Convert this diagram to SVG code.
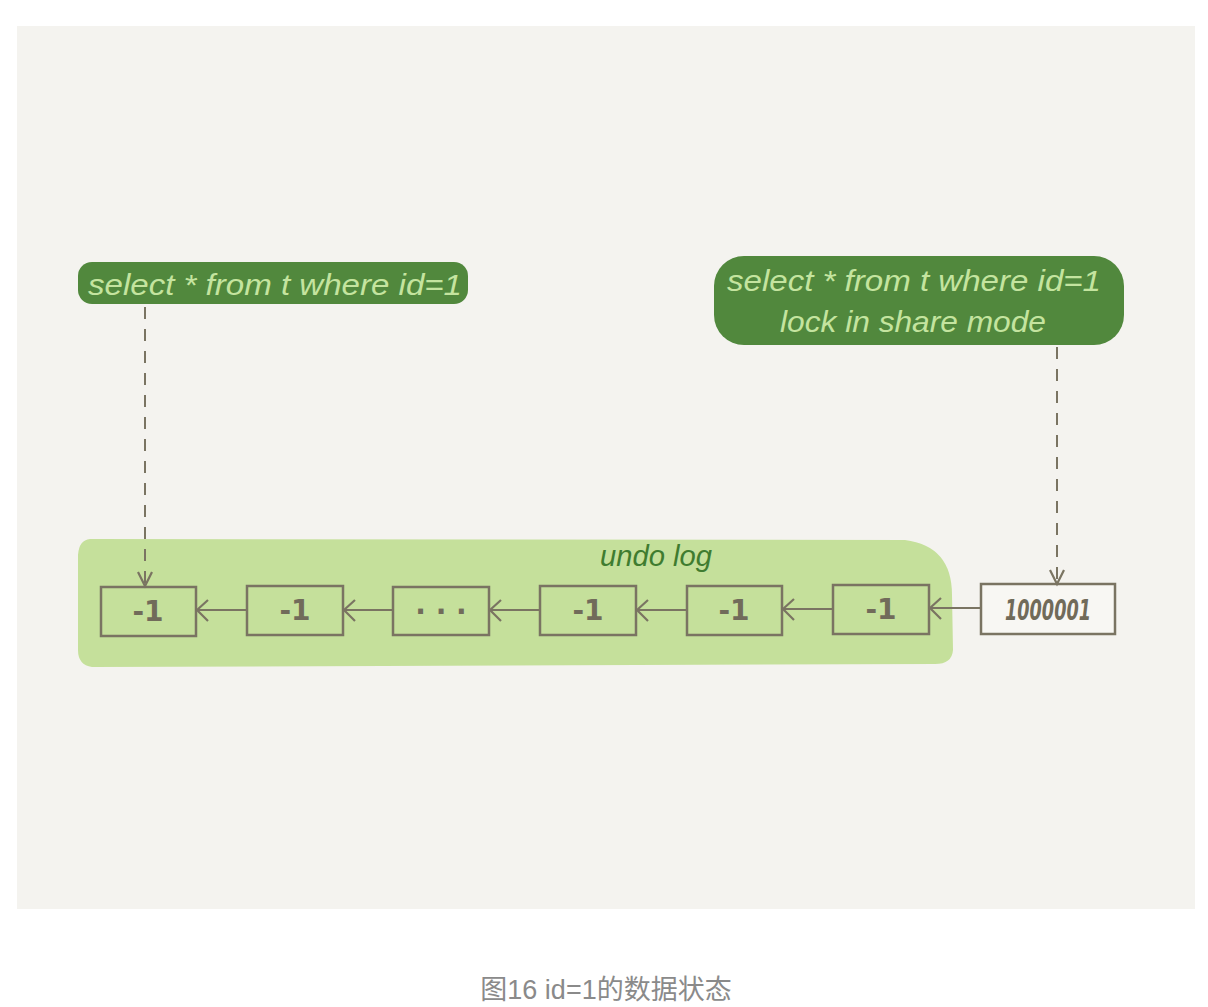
<svg xmlns="http://www.w3.org/2000/svg" width="1208" height="1007" viewBox="0 0 1208 1007">
<style>
.pill{fill:#51883d}
.pt{font-family:"Liberation Sans","DejaVu Sans",sans-serif;font-style:italic;font-size:30px;fill:#c4e49f}
.box{fill:none;stroke:#7a7462;stroke-width:2.5}
.bt{font-family:"DejaVu Sans","Liberation Sans",sans-serif;font-weight:bold;font-size:28px;fill:#716b5a;text-anchor:middle}
.ln{stroke:#7a7462;stroke-width:2.2;fill:none}
.dash{stroke:#7a7462;stroke-width:2;fill:none;stroke-dasharray:12 10}
.ah{stroke:#7a7462;stroke-width:2.2;fill:none}
</style>
<rect x="0" y="0" width="1208" height="1007" fill="#ffffff"/>
<rect x="17" y="26" width="1178" height="883" fill="#f4f3ef"/>
<g id="undo-log-area">
<path d="M90 539 L905 540 Q952 546 952 595 L953 650 Q952 664 935 664 L92 667 Q78 665 78 650 L78 555 Q79 540 90 539 Z" fill="#c5e09b"/>
<text x="600" y="566" font-family="Liberation Sans,DejaVu Sans,sans-serif" font-style="italic" font-size="30" fill="#3f7c30" textLength="112" lengthAdjust="spacingAndGlyphs">undo log</text>
</g>
<g id="query1">
<rect class="pill" x="78" y="262" width="390" height="42" rx="14"/>
<text class="pt" x="88" y="295" textLength="374" lengthAdjust="spacingAndGlyphs">select * from t where id=1</text>
</g>
<g id="query2">
<rect class="pill" x="714" y="256" width="410" height="89" rx="30"/>
<text class="pt" x="727" y="291" textLength="374" lengthAdjust="spacingAndGlyphs">select * from t where id=1</text>
<text class="pt" x="780" y="332" textLength="266" lengthAdjust="spacingAndGlyphs">lock in share mode</text>
</g>
<g id="v1"><rect class="box" x="101" y="587" width="95" height="49"/><text class="bt" x="148" y="621">-1</text></g>
<g id="v2"><rect class="box" x="247" y="586" width="96" height="49"/><text class="bt" x="295" y="620">-1</text></g>
<g id="v3"><rect class="box" x="393" y="587" width="96" height="48"/><text class="bt" x="441" y="621">· · ·</text></g>
<g id="v4"><rect class="box" x="540" y="586" width="96" height="49"/><text class="bt" x="588" y="620">-1</text></g>
<g id="v5"><rect class="box" x="687" y="586" width="95" height="49"/><text class="bt" x="734" y="620">-1</text></g>
<g id="v6"><rect class="box" x="833" y="585" width="96" height="49"/><text class="bt" x="881" y="619">-1</text></g>
<g id="current"><rect x="981" y="584" width="134" height="50" fill="#f8f7f3" stroke="#7a7462" stroke-width="2.5"/><text class="bt" x="1048" y="620" font-style="italic" font-size="26" textLength="86" lengthAdjust="spacingAndGlyphs">1000001</text></g>
<g id="connectors">
<line class="ln" x1="247" y1="610" x2="197" y2="610"/><path class="ah" d="M208 600 L197 610 L208 621"/>
<line class="ln" x1="393" y1="610" x2="344" y2="610"/><path class="ah" d="M355 600 L344 610 L355 621"/>
<line class="ln" x1="540" y1="610" x2="490" y2="610"/><path class="ah" d="M501 600 L490 610 L501 621"/>
<line class="ln" x1="687" y1="610" x2="637" y2="610"/><path class="ah" d="M648 600 L637 610 L648 621"/>
<line class="ln" x1="833" y1="609" x2="783" y2="609"/><path class="ah" d="M794 599 L783 609 L794 620"/>
<line class="ln" x1="981" y1="608" x2="930" y2="608"/><path class="ah" d="M941 598 L930 608 L941 619"/>
<line class="dash" x1="145" y1="307" x2="145" y2="585"/><path class="ah" d="M138 572 L145 586 L152 572"/>
<line class="dash" x1="1057" y1="347" x2="1057" y2="583"/><path class="ah" d="M1050 570 L1057 584 L1064 570"/>
</g>
<text x="606" y="999" font-family="Liberation Sans,Noto Sans CJK SC,sans-serif" font-size="27" fill="#8a8a8a" text-anchor="middle">图16 id=1的数据状态</text>
</svg>
